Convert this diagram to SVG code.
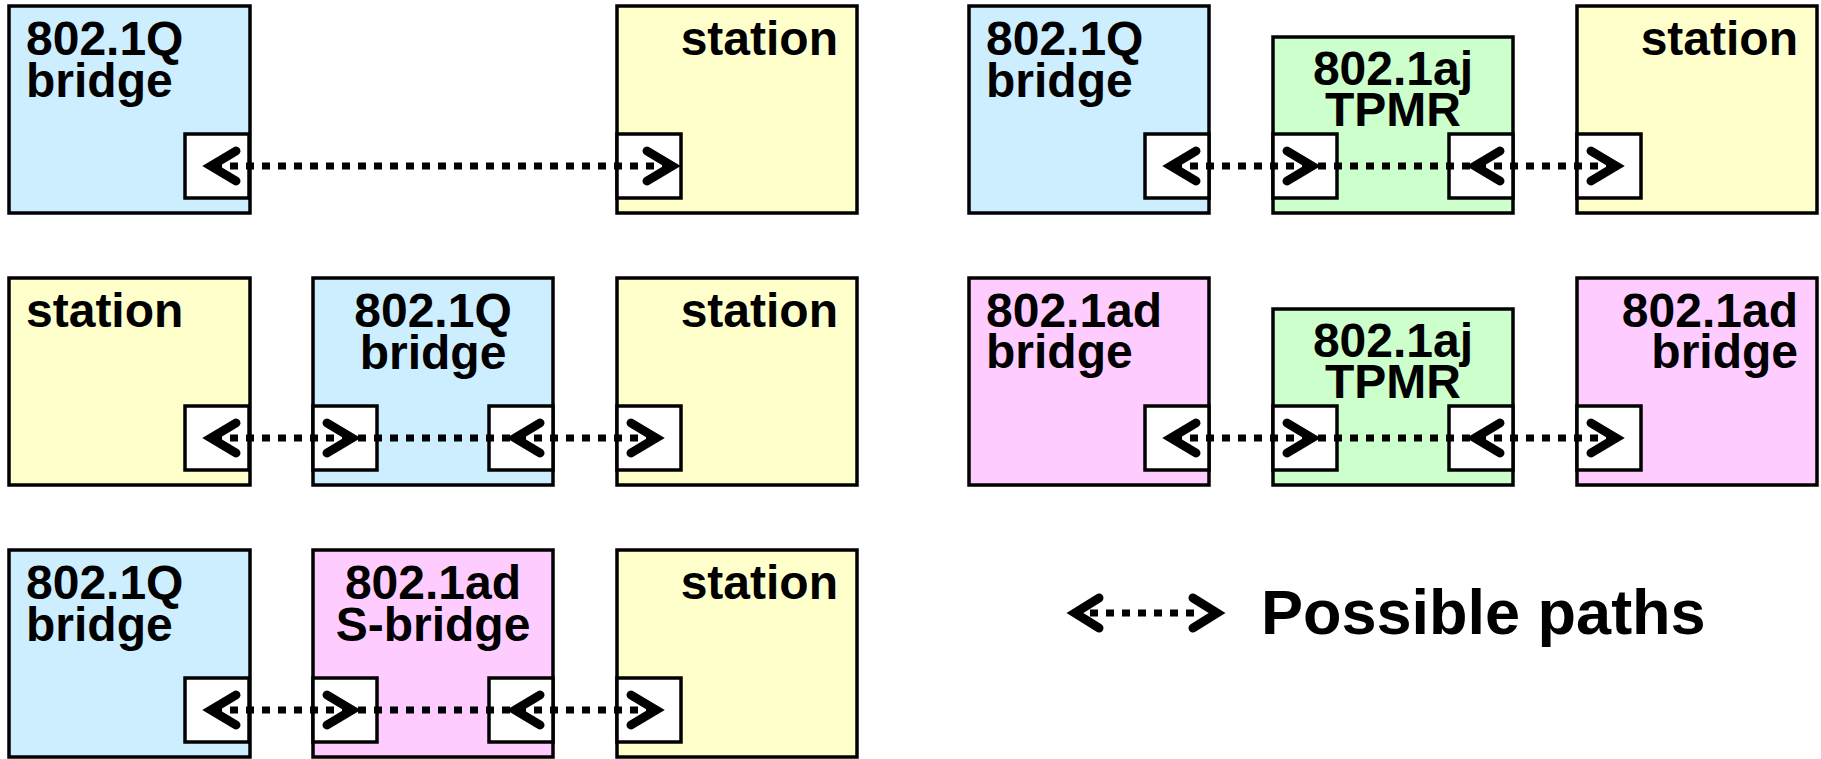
<svg xmlns="http://www.w3.org/2000/svg" width="1821" height="759" viewBox="0 0 1821 759">
<style>
.box{stroke:#000;stroke-width:3.5}
.q{fill:#cceeff}
.st{fill:#ffffcc}
.aj{fill:#ccffcc}
.ad{fill:#ffccff}
.port{fill:#fff;stroke:#000;stroke-width:3.5}
text{font-family:"Liberation Sans",Arial,sans-serif;font-weight:bold;font-size:48px;fill:#000}
.l{text-anchor:start}
.c{text-anchor:middle}
.r{text-anchor:end}
.dot{stroke:#000;stroke-width:7;stroke-dasharray:8 8;fill:none}
.chev{stroke:#000;stroke-width:9;fill:none;stroke-linecap:round;stroke-linejoin:miter;stroke-miterlimit:10}
</style>
<rect width="1821" height="759" fill="#fff"/>

<!-- Row 1 left -->
<g id="r1-q-bridge">
<rect class="box q" x="9" y="6" width="241" height="207"/>
<rect class="port" x="185" y="134" width="64" height="64"/>
<text class="l" x="26" y="55">802.1Q</text>
<text class="l" x="26" y="97">bridge</text>
</g>
<g id="r1-station">
<rect class="box st" x="617" y="6" width="240" height="207"/>
<rect class="port" x="617" y="134" width="64" height="64"/>
<text class="r" x="838" y="55">station</text>
</g>

<!-- Row 1 right -->
<g id="r1b-q-bridge">
<rect class="box q" x="969" y="6" width="240" height="207"/>
<rect class="port" x="1145" y="134" width="64" height="64"/>
<text class="l" x="986" y="55">802.1Q</text>
<text class="l" x="986" y="97">bridge</text>
</g>
<g id="r1b-tpmr">
<rect class="box aj" x="1273" y="37" width="240" height="176"/>
<rect class="port" x="1273" y="134" width="64" height="64"/>
<rect class="port" x="1449" y="134" width="64" height="64"/>
<text class="c" x="1393" y="85">802.1aj</text>
<text class="c" x="1393" y="126">TPMR</text>
</g>
<g id="r1b-station">
<rect class="box st" x="1577" y="6" width="240" height="207"/>
<rect class="port" x="1577" y="134" width="64" height="64"/>
<text class="r" x="1798" y="55">station</text>
</g>

<!-- Row 2 left -->
<g id="r2-station-a">
<rect class="box st" x="9" y="278" width="241" height="207"/>
<rect class="port" x="185" y="406" width="64" height="64"/>
<text class="l" x="26" y="327">station</text>
</g>
<g id="r2-q-bridge">
<rect class="box q" x="313" y="278" width="240" height="207"/>
<rect class="port" x="313" y="406" width="64" height="64"/>
<rect class="port" x="489" y="406" width="64" height="64"/>
<text class="c" x="433" y="327">802.1Q</text>
<text class="c" x="433" y="369">bridge</text>
</g>
<g id="r2-station-b">
<rect class="box st" x="617" y="278" width="240" height="207"/>
<rect class="port" x="617" y="406" width="64" height="64"/>
<text class="r" x="838" y="327">station</text>
</g>

<!-- Row 2 right -->
<g id="r2b-ad-bridge-a">
<rect class="box ad" x="969" y="278" width="240" height="207"/>
<rect class="port" x="1145" y="406" width="64" height="64"/>
<text class="l" x="986" y="327">802.1ad</text>
<text class="l" x="986" y="368">bridge</text>
</g>
<g id="r2b-tpmr">
<rect class="box aj" x="1273" y="309" width="240" height="176"/>
<rect class="port" x="1273" y="406" width="64" height="64"/>
<rect class="port" x="1449" y="406" width="64" height="64"/>
<text class="c" x="1393" y="357">802.1aj</text>
<text class="c" x="1393" y="398">TPMR</text>
</g>
<g id="r2b-ad-bridge-b">
<rect class="box ad" x="1577" y="278" width="240" height="207"/>
<rect class="port" x="1577" y="406" width="64" height="64"/>
<text class="r" x="1798" y="327">802.1ad</text>
<text class="r" x="1798" y="368">bridge</text>
</g>

<!-- Row 3 -->
<g id="r3-q-bridge">
<rect class="box q" x="9" y="550" width="241" height="207"/>
<rect class="port" x="185" y="678" width="64" height="64"/>
<text class="l" x="26" y="599">802.1Q</text>
<text class="l" x="26" y="641">bridge</text>
</g>
<g id="r3-s-bridge">
<rect class="box ad" x="313" y="550" width="240" height="207"/>
<rect class="port" x="313" y="678" width="64" height="64"/>
<rect class="port" x="489" y="678" width="64" height="64"/>
<text class="c" x="433" y="599">802.1ad</text>
<text class="c" x="433" y="641">S-bridge</text>
</g>
<g id="r3-station">
<rect class="box st" x="617" y="550" width="240" height="207"/>
<rect class="port" x="617" y="678" width="64" height="64"/>
<text class="r" x="838" y="599">station</text>
</g>

<!-- Connectors -->
<g id="connectors">
<line class="dot" x1="214" y1="166" x2="668" y2="166"/>
<polyline class="chev" points="236,151 211,166 236,181"/>
<polyline class="chev" points="647,151 672,166 647,181"/>

<line class="dot" x1="1174" y1="166" x2="1614" y2="166"/>
<polyline class="chev" points="1196,151 1171,166 1196,181"/>
<polyline class="chev" points="1287,151 1312,166 1287,181"/>
<polyline class="chev" points="1500,151 1475,166 1500,181"/>
<polyline class="chev" points="1591,151 1616,166 1591,181"/>

<line class="dot" x1="214" y1="438" x2="652" y2="438"/>
<polyline class="chev" points="236,423 211,438 236,453"/>
<polyline class="chev" points="327,423 352,438 327,453"/>
<polyline class="chev" points="540,423 515,438 540,453"/>
<polyline class="chev" points="631,423 656,438 631,453"/>

<line class="dot" x1="1174" y1="438" x2="1614" y2="438"/>
<polyline class="chev" points="1196,423 1171,438 1196,453"/>
<polyline class="chev" points="1287,423 1312,438 1287,453"/>
<polyline class="chev" points="1500,423 1475,438 1500,453"/>
<polyline class="chev" points="1591,423 1616,438 1591,453"/>

<line class="dot" x1="214" y1="710" x2="652" y2="710"/>
<polyline class="chev" points="236,695 211,710 236,725"/>
<polyline class="chev" points="327,695 352,710 327,725"/>
<polyline class="chev" points="540,695 515,710 540,725"/>
<polyline class="chev" points="631,695 656,710 631,725"/>
</g>

<!-- Legend -->
<g id="legend">
<line class="dot" x1="1090" y1="613" x2="1200" y2="613"/>
<polyline class="chev" points="1099,598 1075,613 1099,628"/>
<polyline class="chev" points="1193,598 1217,613 1193,628"/>
<text class="l" x="1261" y="634" style="font-size:63px">Possible paths</text>
</g>
</svg>
